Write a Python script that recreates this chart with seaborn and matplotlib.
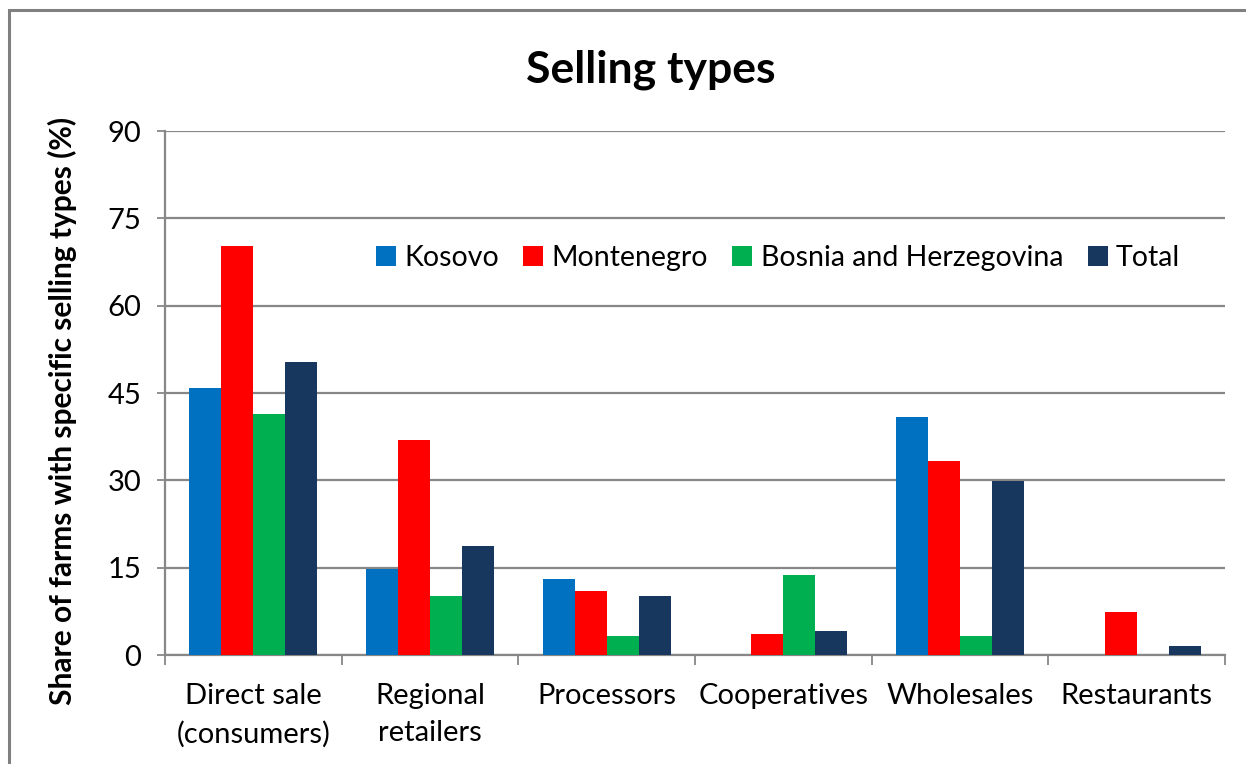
import numpy as np
import pandas as pd
import matplotlib
matplotlib.use("Agg")
import matplotlib.pyplot as plt
from matplotlib.patches import Rectangle
import seaborn as sns

categories = ["Direct sale\n(consumers)", "Regional\nretailers", "Processors",
              "Cooperatives", "Wholesales", "Restaurants"]
countries = ["Kosovo", "Montenegro", "Bosnia and Herzegovina", "Total"]
kosovo = [45.8, 14.7, 13.0, 0.0, 40.9, 0.0]
montenegro = [70.3, 36.9, 11.0, 3.6, 33.3, 7.3]
bosnia = [41.4, 10.2, 3.3, 13.7, 3.3, 0.0]
total = [50.3, 18.7, 10.1, 4.1, 29.9, 1.6]
yticks = [0, 15, 30, 45, 60, 75, 90]
colors = ["#0070C0", "#FF0000", "#00B050", "#17375E"]

df = pd.DataFrame({
    "category": categories * 4,
    "country": np.repeat(countries, len(categories)),
    "share": kosovo + montenegro + bosnia + total,
})

sns.set_style("white")
plt.rcParams["font.family"] = ["Lato", "DejaVu Sans"]
plt.rcParams["text.color"] = "black"
plt.rcParams["xtick.color"] = "black"
plt.rcParams["ytick.color"] = "black"

fig = plt.figure(figsize=(12.46, 7.64), dpi=100)
ax = fig.add_axes([165 / 1246, 1 - 655 / 764, 1060 / 1246, 524 / 764])

sns.barplot(data=df, x="category", y="share", hue="country", order=categories,
            hue_order=countries, palette=colors, width=0.725, linewidth=0,
            saturation=1, ax=ax, zorder=3)

grid_c = "#878787"
ax.set_ylim(0, 90)
ax.set_xlim(-0.5, len(categories) - 0.5)
ax.set_yticks(yticks)
ax.set_yticklabels([str(t) for t in yticks], fontsize=21)
ax.yaxis.grid(True, color=grid_c, linewidth=1.6, zorder=0)
ax.set_axisbelow(True)
for s in ["top", "right"]:
    ax.spines[s].set_visible(False)
for s in ["left", "bottom"]:
    ax.spines[s].set_color(grid_c)
    ax.spines[s].set_linewidth(1.6)
ax.tick_params(axis="y", direction="out", length=6, width=1.3, color=grid_c,
               labelcolor="black", pad=11, left=True)

# category boundaries as major ticks, labels on minor ticks
ax.set_xticks(np.arange(-0.5, len(categories)), labels=[""] * (len(categories) + 1))
ax.set_xticks(np.arange(len(categories)), labels=categories, minor=True)
ax.tick_params(axis="x", which="major", direction="out", length=7, width=1.3, color=grid_c, bottom=True)
ax.tick_params(axis="x", which="minor", length=0, pad=20, labelsize=21, labelcolor="black")
for lab in ax.get_xticklabels(minor=True):
    lab.set_linespacing(1.55)
ax.set_xlabel("")
ax.set_ylabel("")

fig.text(62 / 1246, 1 - 411 / 764, "Share of farms with specific selling types (%)",
         rotation=90, ha="center", va="center", fontsize=21.5, fontweight="bold")
fig.text(651 / 1246, 1 - 70 / 764, "Selling types", ha="center", va="center",
         fontsize=32, fontweight="bold")

ax.legend(ncol=4, frameon=False, loc="center right", fontsize=20.5,
          bbox_to_anchor=(1206 / 1246, 1 - 258 / 764), bbox_transform=fig.transFigure,
          handlelength=0.7, handleheight=0.7, handletextpad=0.3, columnspacing=0.85)

fig.patches.append(Rectangle((9 / 1246, -0.1), 1.2, 1.1 - 10 / 764, transform=fig.transFigure,
                             fill=False, edgecolor="#808080", linewidth=2.2, zorder=10))

fig.savefig("out.png", dpi=100, facecolor="white")
